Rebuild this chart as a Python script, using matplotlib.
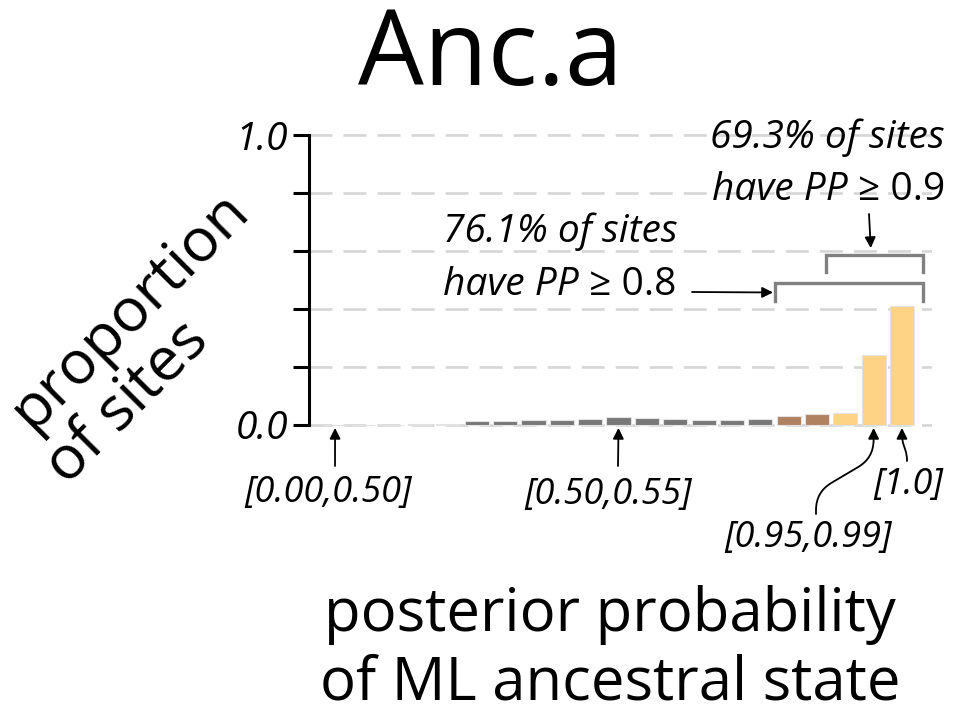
import matplotlib
matplotlib.use('Agg')
import matplotlib.pyplot as plt

# Posterior probability bins of the ML ancestral state.
bins = [
    '[0.00,0.05]', '[0.05,0.10]', '[0.10,0.15]', '[0.15,0.20]', '[0.20,0.25]',
    '[0.25,0.30]', '[0.30,0.35]', '[0.35,0.40]', '[0.40,0.45]', '[0.45,0.50]',
    '[0.50,0.55]', '[0.55,0.60]', '[0.60,0.65]', '[0.65,0.70]', '[0.70,0.75]',
    '[0.75,0.80]', '[0.80,0.85]', '[0.85,0.90]', '[0.90,0.95]', '[0.95,0.99]',
    '[1.0]',
]
proportion = [
    0.0, 0.0, 0.0, 0.002, 0.003,
    0.015, 0.013, 0.016, 0.017, 0.022,
    0.028, 0.025, 0.022, 0.017, 0.017,
    0.022, 0.031, 0.037, 0.043, 0.240,
    0.410,
]
# Bins that get a callout label below the axis.
callout_bins = ['[0.00,0.05]', '[0.50,0.55]', '[0.95,0.99]', '[1.0]']
callout_text = ['[0.00,0.50]', '[0.50,0.55]', '[0.95,0.99]', '[1.0]']

pct_pp08 = 76.1
pct_pp09 = 69.3

GRAY = '#787878'
BROWN = '#b08262'
ORANGE = '#ffd385'
FONT = ['Open Sans', 'DejaVu Sans']

W, H = 958, 712


def fx(px):
    return px / W


def fy(py):
    return 1 - py / H


def bar_color(label):
    lo = 1.0 if label == '[1.0]' else float(label[1:5])
    if lo >= 0.9:
        return ORANGE
    if lo >= 0.8:
        return BROWN
    return GRAY


def plot():
    plt.rcParams['font.family'] = FONT
    plt.rcParams['lines.scale_dashes'] = False

    fig = plt.figure(figsize=(W / 100, H / 100), dpi=100)
    pad = 0.01
    ax = fig.add_axes([fx(309), fy(425 + 290 * pad), fx(932) - fx(309),
                       (1 + 2 * pad) * 290 / H])

    x = list(range(len(bins)))
    ax.bar(x, proportion, width=0.85, color=[bar_color(b) for b in bins],
           edgecolor='#e2e2e2', linewidth=0.8, zorder=3)

    ax.set_xlim(-0.92, 21.06)
    ax.set_ylim(-pad, 1 + pad)

    ax.set_axisbelow(True)
    ax.yaxis.grid(True, color='#d6d6d6', lw=1.9, linestyle=(0, (16.5, 8)))

    for side in ['top', 'right', 'bottom']:
        ax.spines[side].set_visible(False)
    ax.spines['left'].set_bounds(0, 1)
    ax.spines['left'].set_linewidth(2.2)
    ax.set_xticks([])
    ax.set_yticks([0, 0.2, 0.4, 0.6, 0.8, 1.0])
    ax.set_yticklabels(['0.0', '', '', '', '', '1.0'])
    ax.tick_params(axis='y', length=11.5, width=2.2, pad=3.5, labelsize=28)
    for lab in ax.get_yticklabels():
        lab.set_style('italic')

    # Title and axis labels.
    fig.text(fx(490), fy(58), 'Anc.a', ha='center', va='center', size=75)
    fig.text(fx(130), fy(310), 'proportion', rotation=45, ha='center',
             va='center', size=44, rotation_mode='anchor')
    fig.text(fx(127), fy(403), 'of sites', rotation=45, ha='center',
             va='center', size=44, rotation_mode='anchor')
    fig.text(fx(610), fy(615), 'posterior probability', ha='center',
             va='center', size=43)
    fig.text(fx(610), fy(683), 'of ML ancestral state', ha='center',
             va='center', size=43)

    # Callouts under the bars.
    arrow = dict(arrowstyle='-|>', color='black', lw=1.3, mutation_scale=16,
                 shrinkA=0, shrinkB=0)
    spots = {
        '[0.00,0.50]': ((328, 493), (335, 466), None),
        '[0.50,0.55]': ((608, 495), (618, 466), None),
        '[0.95,0.99]': ((808, 538), (816, 514),
                        'arc,angleA=90,armA=22,angleB=-90,armB=30,rad=18'),
        '[1.0]': ((908, 485), (907, 461),
                  'arc,angleA=90,armA=6,angleB=-90,armB=12,rad=5'),
    }
    for b, txt in zip(callout_bins, callout_text):
        (tx, ty), (sx, sy), conn = spots[txt]
        fig.text(fx(tx), fy(ty), txt, ha='center', va='center', size=26,
                 style='italic')
        props = dict(arrow)
        if conn:
            props['connectionstyle'] = conn
        ax.annotate('', xy=(bins.index(b), -0.01), xycoords='data',
                    xytext=(sx, H - sy), textcoords='figure pixels',
                    arrowprops=props, annotation_clip=False)

    # Brackets over the high-PP bins.
    bk = dict(color='#808080', lw=2.4, solid_joinstyle='miter', clip_on=False)
    ax.plot([15.52, 15.52, 20.74, 20.74], [0.428, 0.488, 0.488, 0.428], **bk)
    ax.plot([17.32, 17.32, 20.74, 20.74], [0.528, 0.585, 0.585, 0.528], **bk)

    # Summary notes.
    fig.text(fx(443), fy(232), f'{pct_pp08}% of sites', ha='left',
             va='center', size=28, style='italic')
    t8 = fig.text(fx(443), fy(285), 'have PP', ha='left', va='center',
                  size=28, style='italic')
    ax.annotate(' \u2265 0.8', xy=(1, 0), xycoords=t8, ha='left',
                va='bottom', size=28)
    ax.annotate('', xy=(15.45, 0.457), xycoords='data',
                xytext=(692, H - 292), textcoords='figure pixels',
                arrowprops=arrow, annotation_clip=False)

    fig.text(fx(945), fy(138), f'{pct_pp09}% of sites', ha='right',
             va='center', size=28, style='italic')
    t9 = fig.text(fx(945), fy(190), '\u2265 0.9', ha='right', va='center',
                  size=28)
    ax.annotate('have PP ', xy=(0, 0), xycoords=t9, ha='right',
                va='bottom', size=28, style='italic')
    ax.annotate('', xy=(18.9, 0.61), xycoords='data',
                xytext=(869, H - 214), textcoords='figure pixels',
                arrowprops=arrow, annotation_clip=False)

    fig.savefig('out.png', dpi=100)


if __name__ == '__main__':
    plot()
